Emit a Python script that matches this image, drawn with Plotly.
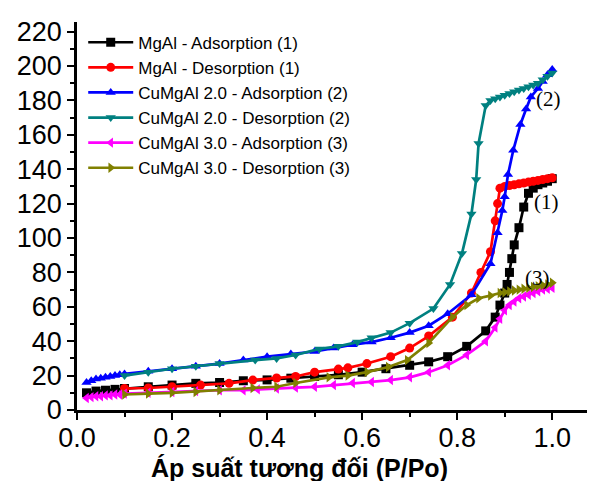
import plotly.graph_objects as go

# MgAl - Adsorption (1)
mgal_ads_x = [0.02, 0.04, 0.06, 0.08, 0.1, 0.15, 0.2, 0.25, 0.3, 0.35, 0.4, 0.45, 0.5, 0.55, 0.6,
              0.65, 0.7, 0.74, 0.78, 0.82, 0.86, 0.88, 0.89, 0.9, 0.905, 0.91, 0.915, 0.92, 0.93,
              0.94, 0.95, 0.96, 0.97, 0.98, 0.99, 1.0]
mgal_ads_y = [10, 11, 11.5, 12, 12.5, 13.5, 14.5, 15.5, 16, 17, 17.5, 18.5, 19.5, 20.5, 22,
              24, 26, 28, 31, 37, 46, 54, 61, 68, 73, 80, 88, 96, 106,
              118, 126, 129, 131, 132, 133, 134.5]
# MgAl - Desorption (1)
mgal_des_x = [1.0, 0.99, 0.98, 0.97, 0.96, 0.95, 0.94, 0.93, 0.92, 0.91, 0.90, 0.89, 0.885, 0.88,
              0.87, 0.85, 0.83, 0.79, 0.74, 0.70, 0.66, 0.61, 0.57, 0.55, 0.5, 0.46, 0.42, 0.37,
              0.32, 0.26, 0.2, 0.15, 0.1]
mgal_des_y = [135, 134.5, 134, 133.5, 133, 132.5, 132, 131.5, 131, 130.5, 130, 129, 120, 110,
              92, 80, 68, 54, 43, 36, 31, 27, 24.5, 23.8, 22, 19.5, 18.6, 17.4,
              15.5, 14.5, 13.5, 12.8, 12.5]
# CuMgAl 2.0 - Adsorption (2)
cu2_ads_x = [0.02, 0.03, 0.04, 0.05, 0.06, 0.07, 0.08, 0.09, 0.1, 0.15, 0.2, 0.25, 0.3, 0.35, 0.4,
             0.45, 0.5, 0.54, 0.58, 0.62, 0.66, 0.7, 0.74, 0.78, 0.83, 0.87, 0.885, 0.895, 0.9,
             0.907, 0.918, 0.933, 0.945, 0.955, 0.97, 0.98, 0.99, 1.0]
cu2_ads_y = [16, 17, 18, 18.5, 19, 19.5, 20, 20.5, 21, 22.5, 24, 25.5, 27, 29, 31,
             32.5, 34, 36, 38, 39.5, 42, 45, 49, 56, 67, 85, 103, 116, 124,
             137, 151, 166, 175, 182, 187, 191, 195, 198]
# CuMgAl 2.0 - Desorption (2)
cu2_des_x = [1.0, 0.99, 0.98, 0.97, 0.96, 0.95, 0.94, 0.93, 0.92, 0.91, 0.90, 0.89, 0.88, 0.87,
             0.86, 0.845, 0.84, 0.83, 0.81, 0.785, 0.75, 0.70, 0.66, 0.62, 0.59, 0.55, 0.51,
             0.46, 0.42, 0.375, 0.3, 0.25, 0.2, 0.15, 0.1]
cu2_des_y = [196, 194, 192, 190, 189, 188, 187, 186, 185, 184, 183, 182, 181, 180,
             177, 155, 134, 114, 91, 73, 59, 50.5, 45, 42, 39.5, 37, 35.5,
             32, 30, 29, 27, 25.5, 24, 22, 20]
# CuMgAl 3.0 - Adsorption (3)
cu3_ads_x = [0.02, 0.03, 0.04, 0.05, 0.06, 0.07, 0.08, 0.09, 0.1, 0.15, 0.2, 0.25, 0.3, 0.35,
             0.38, 0.42, 0.46, 0.5, 0.54, 0.58, 0.62, 0.66, 0.7, 0.74, 0.78, 0.82, 0.86, 0.88,
             0.89, 0.9, 0.91, 0.92, 0.93, 0.94, 0.95, 0.96, 0.97, 0.98, 0.99, 1.0]
cu3_ads_y = [7, 7.5, 8, 8, 8.5, 8.5, 9, 9, 9.5, 10, 10.5, 11, 11.5, 11.5,
             12, 12.5, 13, 13.5, 14.5, 15.7, 16.3, 17.4, 19, 22, 26, 32, 40, 48,
             53, 58, 61, 63, 65, 66, 67, 68, 69, 70, 70.5, 71]
# CuMgAl 3.0 - Desorption (3)
cu3_des_x = [1.0, 0.99, 0.98, 0.97, 0.96, 0.95, 0.94, 0.93, 0.92, 0.91, 0.9, 0.89, 0.87, 0.845,
             0.82, 0.79, 0.74, 0.695, 0.655, 0.61, 0.57, 0.53, 0.46, 0.42, 0.37, 0.3, 0.25,
             0.2, 0.15, 0.1]
cu3_des_y = [74, 73, 72.5, 72, 71.5, 71, 70.5, 70, 69.5, 69, 68.5, 68, 66.5, 65,
             61, 54, 39, 29, 25, 22, 20, 19, 15.7, 13.5, 12.8, 11.5, 10.5,
             10, 9.5, 9]

series = [
    ("MgAl - Adsorption (1)", mgal_ads_x, mgal_ads_y, "#000000", "square"),
    ("MgAl - Desorption (1)", mgal_des_x, mgal_des_y, "#FF0000", "circle"),
    ("CuMgAl 2.0 - Adsorption (2)", cu2_ads_x, cu2_ads_y, "#0000FF", "triangle-up"),
    ("CuMgAl 2.0 - Desorption (2)", cu2_des_x, cu2_des_y, "#008080", "triangle-down"),
    ("CuMgAl 3.0 - Adsorption (3)", cu3_ads_x, cu3_ads_y, "#FF00FF", "triangle-left"),
    ("CuMgAl 3.0 - Desorption (3)", cu3_des_x, cu3_des_y, "#808000", "triangle-right"),
]

labels = ["(1)", "(2)", "(3)"]
label_x = [0.958, 0.962, 0.938]
label_y = [121, 181, 77]

fig = go.Figure()
for i, (name, xs, ys, col, sym) in enumerate(series):
    fig.add_trace(go.Scatter(
        x=xs, y=ys, name=name, mode="lines+markers",
        line=dict(color=col, width=2.7),
        marker=dict(symbol=sym, size=9, color=col),
        legendgroup=f"g{i}",
    ))

for t, lx, ly in zip(labels, label_x, label_y):
    fig.add_annotation(x=lx, y=ly, text=t, showarrow=False, xanchor="left", yanchor="middle",
                       font=dict(family="Liberation Serif, Times New Roman, serif", size=21, color="black"))

# page body has an 8px margin; plot area offsets compensate for it
fig.add_annotation(xref="paper", yref="paper", x=0.43, y=-0.15, text="<b>Áp suất tương đối (P/Po)</b>",
                   showarrow=False, xanchor="center", yanchor="middle",
                   font=dict(family="Liberation Sans, Arial, sans-serif", size=25, color="black"))

fig.update_layout(
    width=595, height=481,
    margin=dict(l=69, r=8, t=14, b=79),
    paper_bgcolor="white", plot_bgcolor="white",
    font=dict(family="Liberation Sans, Arial, sans-serif", color="black"),
    showlegend=True,
    legend=dict(x=0.012, y=0.993, xanchor="left", yanchor="top",
                font=dict(size=17, color="black"), bgcolor="rgba(0,0,0,0)",
                itemwidth=45, tracegroupgap=0),
    xaxis=dict(range=[0, 1.09], tickvals=[0, 0.2, 0.4, 0.6, 0.8, 1.0],
               ticktext=["0.0", "0.2", "0.4", "0.6", "0.8", "1.0"], automargin=False,
               showgrid=False, zeroline=False, showline=True, linecolor="black", linewidth=2.5,
               ticks="outside", ticklen=7, tickwidth=2, tickcolor="black",
               tickfont=dict(size=27), ticklabelstandoff=-5,
               minor=dict(dtick=0.1, tick0=0, ticks="outside", ticklen=4, tickwidth=2, tickcolor="black")),
    yaxis=dict(range=[0, 225.6], tickvals=list(range(0, 221, 20)), automargin=False,
               showgrid=False, zeroline=False, showline=True, linecolor="black", linewidth=2.5,
               ticks="outside", ticklen=7, tickwidth=2, tickcolor="black",
               tickfont=dict(size=27),
               minor=dict(dtick=10, tick0=0, ticks="outside", ticklen=4, tickwidth=2, tickcolor="black")),
)

fig.write_html("out.html")
